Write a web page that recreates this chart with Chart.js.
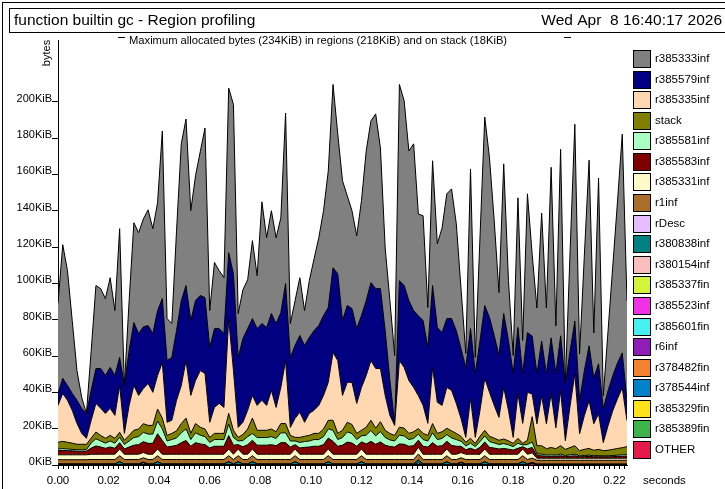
<!DOCTYPE html>
<html><head><meta charset="utf-8">
<script src="https://cdn.jsdelivr.net/npm/chart.js@4"></script>
<style>html,body{margin:0;padding:0;background:#fff;}canvas{display:block;}</style>
</head><body>
<canvas id="c" width="725" height="489"></canvas>
<script>
const titleText = 'function builtin gc - Region profiling';
const dateText = 'Wed Apr  8 16:40:17 2026';
const subtitleText = 'Maximum allocated bytes (234KiB) in regions (218KiB) and on stack (18KiB)';
const xTickLabels = ['0.00','0.02','0.04','0.06','0.08','0.10','0.12','0.14','0.16','0.18','0.20','0.22'];
const yTickValues = [0,20,40,60,80,100,120,140,160,180,200];
const yTickLabels = ['0KiB','20KiB','40KiB','60KiB','80KiB','100KiB','120KiB','140KiB','160KiB','180KiB','200KiB'];

// sample times (seconds)
const times = [
0,0.001875,0.00375,0.005625,0.0075,0.009375,0.01125,0.013125,0.015,0.016875,
0.01875,0.020625,0.0225,0.024375,0.02625,0.028125,0.03,0.031875,0.03375,0.035625,
0.0375,0.039375,0.04125,0.043125,0.045,0.046875,0.04875,0.050625,0.0525,0.054375,
0.05625,0.058125,0.06,0.061875,0.06375,0.065625,0.0675,0.069375,0.07125,0.073125,
0.075,0.076875,0.07875,0.080625,0.0825,0.084375,0.08625,0.088125,0.09,0.091875,
0.09375,0.095625,0.0975,0.099375,0.10125,0.103125,0.105,0.106875,0.10875,0.110625,
0.1125,0.114375,0.11625,0.118125,0.12,0.121875,0.12375,0.125625,0.1275,0.129375,
0.13125,0.133125,0.135,0.136875,0.13875,0.140625,0.1425,0.144375,0.14625,0.148125,
0.15,0.151875,0.15375,0.155625,0.1575,0.159375,0.16125,0.163125,0.165,0.166875,
0.16875,0.170625,0.1725,0.174375,0.17625,0.178125,0.18,0.181875,0.18375,0.185625,
0.1875,0.189375,0.19125,0.193125,0.195,0.196875,0.19875,0.200625,0.2025,0.204375,
0.20625,0.208125,0.21,0.211875,0.21375,0.215625,0.2175,0.219375,0.22125,0.223125,
0.225];

// values in KiB
const r385333inf = [
49.5,73.6,63.2,40.1,16.4,6.0,0,21.9,45.7,44.0,
42.3,49.4,35.7,70.9,0,27.5,55.0,55.5,59.4,63.7,
57.7,59.4,92.3,23.1,18.7,55.0,86.3,91.7,60.5,68.7,
79.2,93.3,20.3,36.4,31.9,30.7,90.6,93.2,24.2,26.9,
26.9,42.9,29.1,67.0,49.4,56.6,47.2,52.2,93.9,18.7,
24.7,31.8,19.2,31.3,39.5,48.3,57.7,75.2,100.9,77.0,
77.0,60.4,53.9,51.1,63.2,82.4,89.1,96.2,77.4,45.5,
44.0,37.4,108.0,101.7,82.4,91.8,56.0,57.7,22.0,68.7,
46.1,57.6,68.7,71.4,58.8,33.0,7.7,87.9,8.8,57.2,
103.8,87.9,63.2,34.6,82.4,33.0,9.9,71.4,18.1,76.4,
45.0,36.3,70.4,36.3,93.9,26.4,102.7,0,55.0,108.3,
25.8,63.2,102.2,24.7,102.2,7.1,32.9,60.4,89.1,120.4,
54.9];
const r385579inf = [
6.6,8.3,8.2,9.3,12.7,13.8,13.7,16.5,19.2,21.9,
20.9,22.5,22.0,15.4,26.4,30.2,34.6,34.1,34.0,31.9,
32.4,35.7,35.2,34.0,34.6,38.4,46.7,41.3,41.2,44.0,
41.3,41.8,41.2,43.4,41.2,40.7,36.3,53.3,38.5,46.1,
45.0,42.3,42.3,42.3,42.9,42.3,46.2,41.2,42.4,38.5,
40.1,42.3,42.3,41.8,43.9,44.0,44.0,41.2,46.7,47.8,
41.2,42.3,40.6,41.2,39.6,41.2,42.9,44.0,44.0,35.7,
19.2,1.1,44.0,45.1,44.0,42.3,44.0,46.7,41.8,45.1,
41.2,40.1,37.9,39.5,40.1,38.4,38.5,38.4,35.2,38.4,
40.1,41.2,38.5,34.1,40.7,38.4,35.2,36.3,27.5,32.9,
31.9,27.5,30.2,27.5,30.8,29.7,30.2,31.3,30.2,29.1,
18.2,24.7,30.2,25.3,27.5,18.7,19.3,19.2,19.7,19.2,
11.0];
const r385335inf = [
20.3,26.4,23.1,18.1,11.5,6.0,3.3,9.8,15.8,14.9,
13.7,14.9,12.6,25.8,3.8,16.5,24.7,18.5,19.3,23.1,
18.2,18.5,30.6,7.2,7.2,16.8,21.0,31.7,20.9,23.7,
31.2,30.6,8.3,14.3,16.5,14.3,52.2,32.9,5.5,6.7,
10.3,12.5,13.7,16.5,13.7,21.3,13.4,19.9,34.7,4.4,
10.5,13.8,7.7,12.1,12.7,15.4,18.5,20.9,37.3,40.1,
19.2,22.0,23.2,16.5,23.6,28.5,32.9,32.8,29.3,19.2,
10.0,5.5,36.7,33.4,29.1,24.4,18.1,15.4,6.6,30.9,
17.1,14.5,22.5,22.3,16.5,9.8,2.7,22.0,3.3,14.3,
28.6,24.2,18.0,12.6,28.4,16.8,3.3,24.7,11.0,26.4,
12.5,12.1,27.5,13.7,29.6,11.5,30.3,4.8,23.0,39.6,
9.3,18.5,26.3,14.6,19.6,4.4,13.5,21.3,27.4,33.0,
14.3];
const stack = [
3.7,4.0,3.7,3.4,3.0,3.0,3.0,2.7,3.7,3.1,
2.7,3.1,2.7,2.8,2.3,3.1,4.0,4.2,4.8,4.8,
4.8,6.6,5.9,3.1,3.4,3.9,5.1,5.9,3.4,5.1,
4.4,4.2,2.8,3.4,3.4,3.4,5.9,4.0,2.0,3.3,
4.2,8.5,4.0,4.0,4.0,4.2,3.7,5.1,5.1,3.1,
2.0,2.8,2.9,3.1,3.4,3.4,4.2,4.7,5.6,3.4,
4.0,5.3,5.0,3.4,3.1,4.4,5.6,4.3,5.4,4.0,
3.5,3.1,4.4,4.3,3.4,3.7,3.1,3.4,3.1,5.1,
3.4,3.7,3.5,3.9,3.4,2.7,2.0,2.7,1.8,2.9,
3.1,2.9,2.7,2.3,2.5,2.2,1.8,2.7,0.9,2.3,
13.9,4.6,4.6,3.6,4.0,3.6,4.6,3.4,4.0,4.6,
2.9,3.4,3.7,3.0,3.4,2.9,3.0,3.4,3.7,3.9,
4.4];
const r385581inf = [
0.9,1.0,0.9,0.8,0.8,0.8,0.8,2.8,3.9,3.3,
2.8,3.3,2.8,2.9,2.5,3.3,4.2,4.4,5.1,5.1,
5.1,7.0,6.4,3.3,3.7,4.1,5.4,6.4,3.7,5.4,
4.8,4.4,3.0,3.7,3.7,3.7,6.3,4.2,2.0,3.5,
4.4,3.7,4.2,4.2,4.2,4.4,4.0,5.4,5.4,3.3,
2.0,3.0,3.2,3.3,3.7,3.7,4.4,5.1,6.0,3.7,
4.2,5.6,5.2,3.7,3.3,4.8,6.0,4.6,5.7,4.2,
3.6,3.3,4.8,4.6,3.7,4.0,3.3,3.7,3.3,5.4,
3.7,4.0,3.6,4.1,3.7,2.8,2.1,2.8,1.9,3.2,
3.3,3.2,2.8,2.5,2.7,2.4,1.9,2.8,1.0,2.5,
3.0,0.9,0.9,0.7,0.8,0.7,0.9,0.6,0.8,0.9,
0.5,0.6,0.7,0.6,0.6,0.5,0.6,0.6,0.7,0.8,
0.8];
const r385583inf = [
2.3,2.4,2.3,2.2,2.0,2.0,2.0,3.4,4.6,4.0,
3.3,4.0,3.3,3.5,2.9,4.0,5.0,5.3,6.0,6.0,
6.0,8.4,7.6,4.0,4.4,4.9,6.4,7.6,4.4,6.4,
5.7,5.3,3.5,4.4,4.4,4.4,7.4,5.0,2.4,4.1,
5.3,4.8,5.0,5.0,5.0,5.3,4.7,6.4,6.4,4.0,
2.4,3.5,3.8,4.0,4.4,4.4,5.3,6.0,7.1,4.4,
5.0,6.7,6.2,4.4,3.9,5.7,7.1,5.5,6.8,5.0,
4.3,4.0,5.7,5.5,4.4,4.7,3.9,4.4,4.0,6.4,
4.4,4.7,4.3,4.9,4.4,3.4,2.5,3.3,2.3,3.8,
3.9,3.8,3.4,2.9,3.2,2.8,2.3,3.3,1.2,2.9,
3.0,1.4,1.4,1.0,1.1,1.0,1.4,0.9,1.1,1.4,
0.8,0.9,1.0,0.8,0.9,0.8,0.8,0.9,1.0,1.1,
1.2];
const r385331inf = [
2.7,2.7,2.7,2.7,2.7,2.7,2.7,2.9,2.9,2.9,
2.9,2.9,2.9,3.7,2.9,2.9,2.9,2.9,2.9,2.9,
2.9,3.7,2.9,2.9,2.9,2.9,2.9,2.9,2.9,2.9,
2.9,2.9,2.9,2.9,2.9,2.9,3.7,2.9,3.7,2.9,
2.9,3.7,2.9,2.9,2.9,2.9,2.9,2.9,2.9,2.9,
3.7,2.9,2.9,2.9,2.9,2.9,2.9,3.7,2.9,2.9,
2.9,2.9,2.9,2.9,3.7,2.9,2.9,2.9,2.9,2.9,
2.9,2.9,2.9,2.9,2.9,2.9,3.7,2.9,2.9,2.9,
2.9,2.9,3.7,2.9,2.9,2.9,2.9,2.9,2.9,2.9,
3.7,2.9,2.9,2.9,2.9,2.9,2.9,2.9,3.7,2.9,
2.9,1.1,1.1,1.1,1.1,1.1,1.1,1.1,1.1,1.1,
1.1,1.1,1.1,1.1,1.1,1.1,1.1,1.1,1.1,1.1,
1.1];
const r1inf = [
2.3,2.3,2.3,2.3,2.3,2.3,2.3,2.4,2.4,2.4,
2.4,2.4,2.4,3.3,2.4,2.4,2.4,2.4,2.4,2.4,
2.4,3.3,2.4,2.4,2.4,2.4,2.4,2.4,2.4,2.4,
2.4,2.4,2.4,2.4,2.4,2.4,3.3,2.4,3.3,2.4,
2.4,3.3,2.4,2.4,2.4,2.4,2.4,2.4,2.4,2.4,
3.3,2.4,2.4,2.4,2.4,2.4,2.4,3.3,2.4,2.4,
2.4,2.4,2.4,2.4,3.3,2.4,2.4,2.4,2.4,2.4,
2.4,2.4,2.4,2.4,2.4,2.4,3.3,2.4,2.4,2.4,
2.4,2.4,3.3,2.4,2.4,2.4,2.4,2.4,2.4,2.4,
3.3,2.4,2.4,2.4,2.4,2.4,2.4,2.4,3.3,2.4,
2.4,2.1,2.1,2.1,2.1,2.1,2.1,2.1,2.1,2.1,
2.1,2.1,2.1,2.1,2.1,2.1,2.1,2.1,2.1,2.1,
2.1];
const rDesc = [
0.05,0.05,0.05,0.05,0.05,0.05,0.05,0.05,0.05,0.05,0.05,0.05,0.05,0.05,0.05,0.05,0.05,0.05,0.05,0.05,
0.05,0.05,0.05,0.05,0.05,0.05,0.05,0.05,0.05,0.05,0.05,0.05,0.05,0.05,0.05,0.05,0.05,0.05,0.05,0.05,
0.05,0.05,0.05,0.05,0.05,0.05,0.05,0.05,0.05,0.05,0.05,0.05,0.05,0.05,0.05,0.05,0.05,0.05,0.05,0.05,
0.05,0.05,0.05,0.05,0.05,0.05,0.05,0.05,0.05,0.05,0.05,0.05,0.05,0.05,0.05,0.05,0.05,0.05,0.05,0.05,
0.05,0.05,0.05,0.05,0.05,0.05,0.05,0.05,0.05,0.05,0.05,0.05,0.05,0.05,0.05,0.05,0.05,0.05,0.05,0.05,
0.05,0.05,0.05,0.05,0.05,0.05,0.05,0.05,0.05,0.05,0.05,0.05,0.05,0.05,0.05,0.05,0.05,0.05,0.05,0.05,
0.05];
const r380838inf = [
0.4,0.4,0.4,0.4,0.4,0.4,0.4,0.4,0.4,0.4,
0.4,0.4,0.4,1.6,0.4,0.4,0.4,0.4,0.4,0.4,
0.4,1.6,0.4,0.4,0.4,0.4,0.4,0.4,0.4,0.4,
0.4,0.4,0.4,0.4,0.4,0.4,1.6,0.4,1.6,0.4,
0.4,1.6,0.4,0.4,0.4,0.4,0.4,0.4,0.4,0.4,
1.6,0.4,0.4,0.4,0.4,0.4,0.4,1.6,0.4,0.4,
0.4,0.4,0.4,0.4,1.6,0.4,0.4,0.4,0.4,0.4,
0.4,0.4,0.4,0.4,0.4,0.4,1.6,0.4,0.4,0.4,
0.4,0.4,1.6,0.4,0.4,0.4,0.4,0.4,0.4,0.4,
1.6,0.4,0.4,0.4,0.4,0.4,0.4,0.4,1.6,0.4,
0.4,0.3,0.3,0.3,0.3,0.3,0.3,0.3,0.3,0.3,
0.3,0.3,0.3,0.3,0.3,0.3,0.3,0.3,0.3,0.3,
0.3];
const r380154inf = [
0.05,0.05,0.05,0.05,0.05,0.05,0.05,0.05,0.05,0.05,
0.05,0.05,0.05,0.05,0.05,0.05,0.05,0.05,1.0,0.05,
0.05,0.05,0.05,0.05,0.05,0.05,0.05,0.05,0.05,0.05,
0.05,0.05,0.05,0.05,0.05,0.05,0.05,0.05,0.05,0.05,
0.05,0.05,0.05,0.05,0.05,0.05,0.05,0.05,0.05,0.05,
0.05,0.05,0.05,0.05,0.05,0.05,0.05,0.05,0.05,0.05,
0.05,0.05,0.05,0.05,0.05,0.05,0.05,0.05,0.05,0.05,
0.05,0.05,0.05,0.05,0.05,0.05,1.0,0.05,0.05,0.05,
0.05,0.05,0.05,0.05,0.05,1.0,0.05,0.05,0.05,0.05,
0.05,0.05,0.05,0.05,0.05,0.05,0.05,0.05,0.05,0.05,
0.05,0.05,0.05,0.05,0.05,0.05,0.05,0.05,0.05,0.05,
0.05,0.05,0.05,0.05,0.05,0.05,0.05,0.05,0.05,0.05,
0.05];
const tiny = [
0.01,0.01,0.01,0.01,0.01,0.01,0.01,0.01,0.01,0.01,0.01,0.01,0.01,0.01,0.01,0.01,0.01,0.01,0.01,0.01,
0.01,0.01,0.01,0.01,0.01,0.01,0.01,0.01,0.01,0.01,0.01,0.01,0.01,0.01,0.01,0.01,0.01,0.01,0.01,0.01,
0.01,0.01,0.01,0.01,0.01,0.01,0.01,0.01,0.01,0.01,0.01,0.01,0.01,0.01,0.01,0.01,0.01,0.01,0.01,0.01,
0.01,0.01,0.01,0.01,0.01,0.01,0.01,0.01,0.01,0.01,0.01,0.01,0.01,0.01,0.01,0.01,0.01,0.01,0.01,0.01,
0.01,0.01,0.01,0.01,0.01,0.01,0.01,0.01,0.01,0.01,0.01,0.01,0.01,0.01,0.01,0.01,0.01,0.01,0.01,0.01,
0.01,0.01,0.01,0.01,0.01,0.01,0.01,0.01,0.01,0.01,0.01,0.01,0.01,0.01,0.01,0.01,0.01,0.01,0.01,0.01,
0.01];
const r385337fin = tiny, r385523inf = tiny, r385601fin = tiny, r6inf = tiny,
      r378482fin = tiny, r378544inf = tiny, r385329fin = tiny, r385389fin = tiny;
const OTHER = [
0.03,0.03,0.03,0.03,0.03,0.03,0.03,0.03,0.03,0.03,0.03,0.03,0.03,0.03,0.03,0.03,0.03,0.03,0.03,0.03,
0.03,0.03,0.03,0.03,0.03,0.03,0.03,0.03,0.03,0.03,0.03,0.03,0.03,0.03,0.03,0.03,0.03,0.03,0.03,0.03,
0.03,0.03,0.03,0.03,0.03,0.03,0.03,0.03,0.03,0.03,0.03,0.03,0.03,0.03,0.03,0.03,0.03,0.03,0.03,0.03,
0.03,0.03,0.03,0.03,0.03,0.03,0.03,0.03,0.03,0.03,0.03,0.03,0.03,0.03,0.03,0.03,0.03,0.03,0.03,0.03,
0.03,0.03,0.03,0.03,0.03,0.03,0.03,0.03,0.03,0.03,0.03,0.03,0.03,0.03,0.03,0.03,0.03,0.03,0.03,0.03,
0.8,0.03,0.03,0.03,0.03,0.03,0.03,0.03,0.03,0.03,0.03,0.03,0.03,0.03,0.03,0.03,0.03,0.03,0.03,0.03,
0.03];

// legend order (top of stack first)
const seriesNames = ['r385333inf','r385579inf','r385335inf','stack','r385581inf','r385583inf','r385331inf','r1inf','rDesc','r380838inf','r380154inf','r385337fin','r385523inf','r385601fin','r6inf','r378482fin','r378544inf','r385329fin','r385389fin','OTHER'];
const seriesValues = [r385333inf,r385579inf,r385335inf,stack,r385581inf,r385583inf,r385331inf,r1inf,rDesc,r380838inf,r380154inf,r385337fin,r385523inf,r385601fin,r6inf,r378482fin,r378544inf,r385329fin,r385389fin,OTHER];
const seriesColors = ['#808080','#000080','#ffd8b1','#808000','#aaffc3','#800000','#fffac8','#aa6e28','#e6beff','#008080','#fabebe','#d2f53c','#f032e6','#46f0f0','#911eb4','#f58230','#0082c8','#ffe119','#3cb44b','#e6194b'];

const FONT = '"Liberation Sans", Arial, Helvetica, sans-serif';
Chart.defaults.font.family = FONT;
Chart.defaults.color = '#000';

const datasets = seriesNames.map((name, k) => ({
  label: name,
  data: times.map((t, i) => ({x: t, y: seriesValues[k][i]})),
  backgroundColor: seriesColors[k],
  borderColor: '#000',
  borderWidth: 1,
  pointRadius: 0,
  pointHoverRadius: 0,
  tension: 0
})).reverse();
datasets.forEach((d, i) => { d.fill = i === 0 ? 'origin' : '-1'; });

const decor = {
  id: 'decor',
  afterDraw(chart) {
    const c = chart.ctx;
    c.save();
    c.strokeStyle = '#000';
    c.lineWidth = 1;
    c.strokeRect(2.5, 2.5, 730, 500);
    c.strokeRect(9.5, 8.5, 720, 24);
    c.fillStyle = '#000';
    c.textBaseline = 'middle';
    c.font = '15.5px ' + FONT;
    c.textAlign = 'left';
    c.fillText(titleText, 14, 21);
    c.textAlign = 'right';
    c.fillText(dateText, 722, 21);
    c.font = '11.2px ' + FONT;
    c.textAlign = 'left';
    c.fillText(subtitleText, 129, 41);
    c.beginPath();
    c.moveTo(118, 37.5); c.lineTo(125, 37.5);
    c.moveTo(564, 37.5); c.lineTo(571, 37.5);
    c.stroke();
    c.save();
    c.translate(47, 53);
    c.rotate(-Math.PI / 2);
    c.textAlign = 'center';
    c.font = '11px ' + FONT;
    c.fillText('bytes', 0, 0);
    c.restore();
    c.font = '11.5px ' + FONT;
    c.fillText('seconds', 643, 481);
    const ds = chart.data.datasets.slice().reverse();
    ds.forEach((d, k) => {
      const y = Math.round(50 + k * 20.58);
      c.fillStyle = d.backgroundColor;
      c.fillRect(633, y, 17, 17);
      c.strokeStyle = '#000';
      c.strokeRect(633.5, y + 0.5, 17, 17);
      c.fillStyle = '#000';
      c.fillText(d.label, 655, y + 9);
    });
    c.restore();
  }
};

new Chart(document.getElementById('c'), {
  type: 'line',
  data: { datasets },
  plugins: [decor],
  options: {
    responsive: false,
    animation: false,
    devicePixelRatio: 1,
    events: [],
    layout: { padding: { top: 40, right: 98, left: 0, bottom: 0 } },
    plugins: { legend: { display: false }, tooltip: { enabled: false }, title: { display: false } },
    elements: { line: { borderJoinStyle: 'miter' } },
    scales: {
      x: {
        type: 'linear',
        min: 0, max: 0.225,
        afterBuildTicks: (scale) => {
          const t = [];
          for (let k = 0; k <= 112; k++) t.push({ value: k * 0.002 });
          scale.ticks = t;
        },
        afterFit: (scale) => { scale.height = 24; },
        ticks: {
          autoSkip: false, maxRotation: 0, padding: 5,
          font: { size: 11.5 }, color: '#000',
          callback: (v, i) => (i % 10 === 0 ? xTickLabels[i / 10] : '')
        },
        grid: { drawOnChartArea: false, drawTicks: true, tickLength: 4, color: '#000', tickColor: '#000' },
        border: { display: true, color: '#000', width: 1 }
      },
      y: {
        type: 'linear',
        stacked: true,
        min: 0, max: 234,
        afterBuildTicks: (scale) => { scale.ticks = yTickValues.map(v => ({ value: v })); },
        afterFit: (scale) => { scale.width = 58; },
        ticks: {
          padding: 0, labelOffset: -3,
          font: { size: 11 }, color: '#000',
          callback: (v, i) => yTickLabels[i]
        },
        grid: { drawOnChartArea: false, drawTicks: true, tickLength: 6, color: '#000', tickColor: '#000' },
        border: { display: true, color: '#000', width: 1 }
      }
    }
  }
});
</script>
</body></html>
